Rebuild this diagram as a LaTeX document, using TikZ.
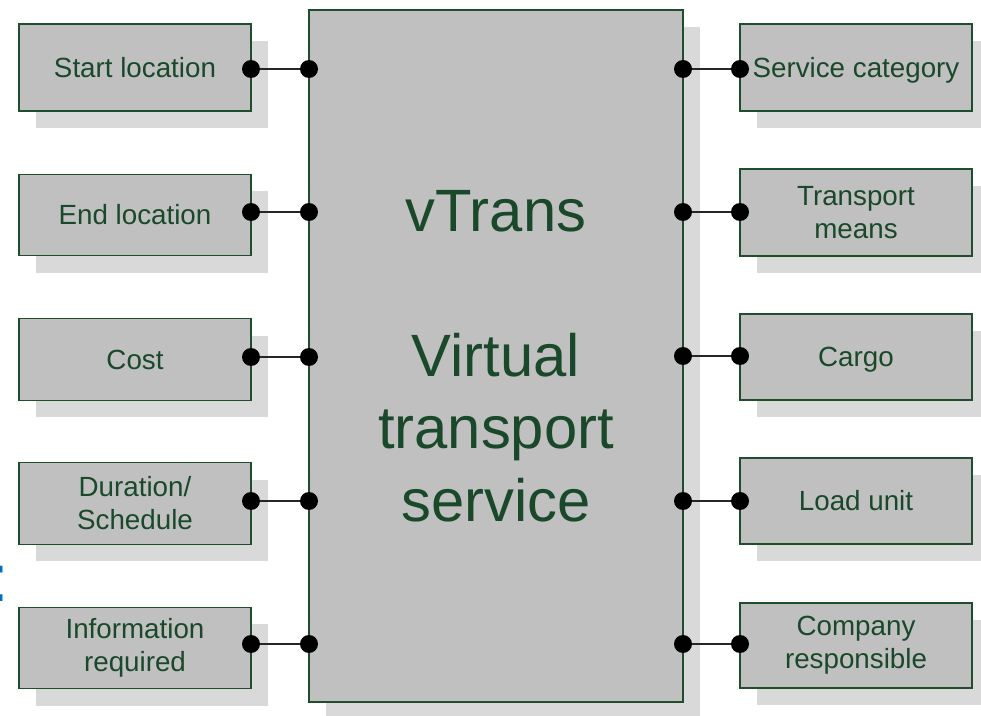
\documentclass[tikz,border=0pt]{standalone}
\usepackage{fontspec}
\setmainfont{Liberation Sans}
\usetikzlibrary{shadows}
\definecolor{boxgray}{RGB}{192,192,192}
\definecolor{shadowgray}{RGB}{217,217,217}
\definecolor{edgegreen}{RGB}{31,78,47}
\definecolor{textgreen}{RGB}{26,72,42}
\definecolor{markblue}{RGB}{0,112,192}

\begin{document}
\begin{tikzpicture}[
  x=0.02cm, y=-0.02cm,
  every node/.style={font=\fontsize{15.8}{18.7}\selectfont, text=textgreen},
  comp/.style={draw=edgegreen, fill=boxgray, line width=0.7pt, minimum width=4.64cm, minimum height=1.63cm, align=center, inner sep=2pt,
    drop shadow={shadow xshift=0.34cm, shadow yshift=-0.34cm, fill=shadowgray, opacity=1}},
  pin/.style={circle, fill=black, inner sep=0pt, minimum size=0.36cm},
  link/.style={draw=black!85, line width=0.8pt},
]
\useasboundingbox (0,0) rectangle (981,716);

% central service
\node[comp, minimum width=7.48cm, minimum height=13.84cm, font=\fontsize{34}{41.2}\selectfont] (vt) at (496,356)
  {vTrans\\[41.2pt]Virtual\\transport\\service};

% inputs
\node[comp, minimum height=1.74cm] (l0) at (135,67.5) {Start location};
\node[comp] (l1) at (135,215) {End location};
\node[comp] (l2) at (135,359.5) {Cost};
\node[comp] (l3) at (135,503.5) {Duration/\\Schedule};
\node[comp] (l4) at (135,648) {Information\\required};

% outputs
\node[comp, minimum height=1.74cm, text depth=0pt] (r0) at (856,67.5) {Service category};
\node[comp, minimum height=1.74cm] (r1) at (856,212.5) {Transport\\means};
\node[comp, minimum height=1.72cm, text depth=0pt] (r2) at (856,357) {Cargo};
\node[comp, minimum height=1.72cm] (r3) at (856,501) {Load unit};
\node[comp, minimum height=1.70cm] (r4) at (856,645.5) {Company\\responsible};

% clipped mark at the left edge
\node[text=markblue, font=\fontsize{38}{40}\selectfont, inner sep=0pt, anchor=base] (cut) at (0,601.5) {:};

% pins
\node[pin] (l0a) at (251,69) {};
\node[pin] (l0b) at (309,69) {};
\node[pin] (l1a) at (251,212) {};
\node[pin] (l1b) at (309,212) {};
\node[pin] (l2a) at (251,357) {};
\node[pin] (l2b) at (309,357) {};
\node[pin] (l3a) at (251,501) {};
\node[pin] (l3b) at (309,501) {};
\node[pin] (l4a) at (251,644) {};
\node[pin] (l4b) at (309,644) {};
\node[pin] (r0a) at (683,69) {};
\node[pin] (r0b) at (740,69) {};
\node[pin] (r1a) at (683,212) {};
\node[pin] (r1b) at (740,212) {};
\node[pin] (r2a) at (683,356) {};
\node[pin] (r2b) at (740,356) {};
\node[pin] (r3a) at (683,501) {};
\node[pin] (r3b) at (740,501) {};
\node[pin] (r4a) at (683,644) {};
\node[pin] (r4b) at (740,644) {};

\draw[link] (l0a) -- (l0b);
\draw[link] (l1a) -- (l1b);
\draw[link] (l2a) -- (l2b);
\draw[link] (l3a) -- (l3b);
\draw[link] (l4a) -- (l4b);
\draw[link] (r0a) -- (r0b);
\draw[link] (r1a) -- (r1b);
\draw[link] (r2a) -- (r2b);
\draw[link] (r3a) -- (r3b);
\draw[link] (r4a) -- (r4b);
\end{tikzpicture}
\end{document}
